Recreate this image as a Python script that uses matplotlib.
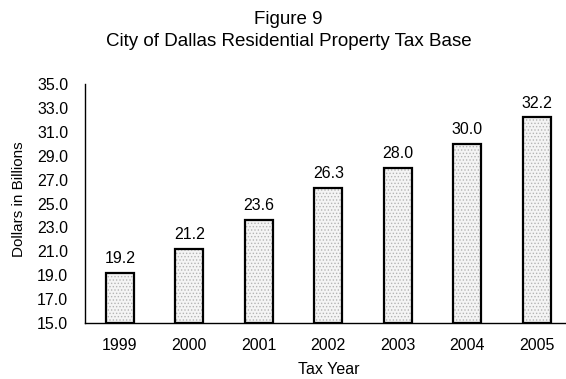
import matplotlib
matplotlib.use("Agg")
import matplotlib.pyplot as plt

plt.rcParams["font.family"] = ["Liberation Sans", "DejaVu Sans"]
plt.rcParams["hatch.linewidth"] = 0.6

years = ["1999", "2000", "2001", "2002", "2003", "2004", "2005"]
tax_base = [19.2, 21.2, 23.6, 26.3, 28.0, 30.0, 32.2]
y_ticks = [15.0, 17.0, 19.0, 21.0, 23.0, 25.0, 27.0, 29.0, 31.0, 33.0, 35.0]

W, H = 566, 379
fig = plt.figure(figsize=(W / 100, H / 100), dpi=100)
# axes box in pixels: x 85..571.5 (runs past the right edge), y 84..323
ax = fig.add_axes([85 / W, (H - 323) / H, 486.5 / W, (323 - 84) / H])

x = range(len(years))
bottom = y_ticks[0]
heights = [v - bottom for v in tax_base]

# dotted fill, then a plain black outline on top
ax.bar(x, heights, bottom=bottom, width=0.40, facecolor="#f4f4f4",
       edgecolor="#b4b4b4", hatch=".....", linewidth=0, zorder=2)
ax.bar(x, heights, bottom=bottom, width=0.40, facecolor="none",
       edgecolor="black", linewidth=1.6, zorder=3)

for xi, v in zip(x, tax_base):
    ax.annotate(f"{v:.1f}", (xi, v), xytext=(0, 5), textcoords="offset points",
                ha="center", va="bottom", fontsize=11.5)

ax.set_xlim(-0.5, len(years) - 0.5)
ax.set_ylim(y_ticks[0], y_ticks[-1])
ax.set_yticks(y_ticks)
ax.set_yticklabels([f"{t:.1f}" for t in y_ticks], fontsize=11.5)
ax.set_xticks(list(x))
ax.set_xticklabels(years, fontsize=11.5)
ax.tick_params(axis="y", length=0, pad=12)
ax.tick_params(axis="x", length=0, pad=11)

for side in ("top", "right"):
    ax.spines[side].set_visible(False)
for side in ("left", "bottom"):
    ax.spines[side].set_linewidth(1.0)

fig.text(329 / W, 1 - 370 / H, "Tax Year", ha="center", va="center",
         fontsize=11.5)
fig.text(19 / W, 1 - 199 / H, "Dollars in Billions", rotation=90,
         ha="center", va="center", fontsize=11)

fig.text(288.5 / W, 1 - 19 / H, "Figure 9", ha="center", va="center",
         fontsize=13.5)
fig.text(288.5 / W, 1 - 41 / H, "City of Dallas Residential Property Tax Base",
         ha="center", va="center", fontsize=13.5)

fig.savefig("out.png", dpi=100)
